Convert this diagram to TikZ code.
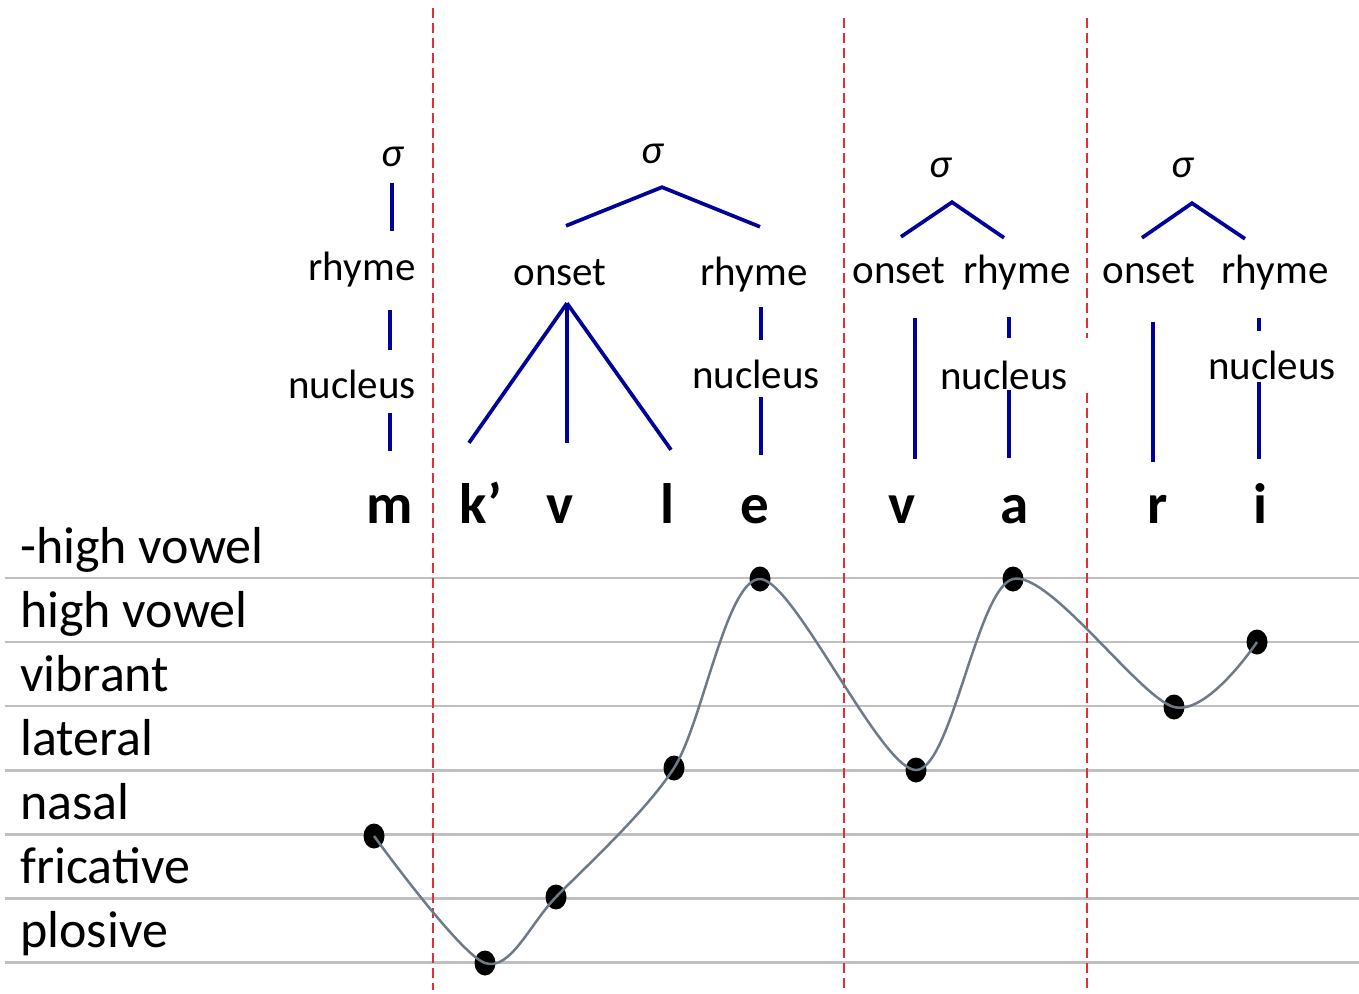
\documentclass[tikz,border=0pt]{standalone}
\usepackage{fontspec}
\setmainfont{Carlito}
\usetikzlibrary{shapes.geometric}
\newcommand\lblfont{\fontsize{41}{41}\selectfont}
\newcommand\segfont{\fontsize{57}{57}\selectfont\bfseries}
\newcommand\rowfont{\fontsize{52}{52}\selectfont}
\definecolor{branchblue}{RGB}{0,0,155}
\definecolor{divred}{RGB}{224,48,48}
\definecolor{rowgray}{RGB}{192,192,192}
\definecolor{curvegray}{RGB}{110,122,135}
\tikzset{
  lbl/.style 2 args={font=\lblfont, inner sep=0pt, anchor=base, text height=#1pt, text depth=#2pt},
  sig/.style={lbl={20}{#1}, font=\lblfont\itshape},
  seg/.style={font=\segfont, inner sep=0pt, anchor=base, text height=#1pt},
  branch/.style={draw=branchblue, line width=3.7pt},
  divider/.style={draw=divred, line width=1.5pt, dash pattern=on 10pt off 5pt},
  rowline/.style={draw=rowgray, line width=2.5pt},
  rowlab/.style={font=\rowfont, inner sep=0pt, anchor=base west},
  dot/.style={ellipse, fill=black, inner sep=0pt, minimum width=21pt, minimum height=25pt},
  curve/.style={draw=curvegray, line width=2.5pt}
}
\begin{document}
\begin{tikzpicture}[x=1pt,y=-1pt]
  \useasboundingbox (0,0) rectangle (1359,993);
  \foreach \lab [count=\k from 0] in {-high vowel, high vowel, vibrant, lateral, nasal, fricative, plosive} {
    \draw[rowline] (5,578+64.1*\k) -- (1359,578+64.1*\k);
    \node[rowlab] (row\k) at (20,563+64.1*\k) {\lab};
  }
  \draw[divider] (433,8) -- (433,990);
  \draw[divider] (844,18) -- (844,990);
  \draw[divider] (1087,18) -- (1087,990);

  \node[sig=17] (s1) at (392,166) {σ};
  \node[lbl={49}{30}] (r1) at (362,280) {rhyme};
  \node[lbl={48}{15}] (n1) at (352,398) {nucleus};
  \node[seg=72] (m) at (390,523) {m};

  \node[sig=24] (s2) at (652,163) {σ};
  \node[lbl={59}{18}] (o2) at (560,285) {onset};
  \node[lbl={58}{22}] (r2) at (754,285) {rhyme};
  \node[lbl={48}{9}] (n2) at (756,388) {nucleus};
  \node[seg=80] (k) at (481,523) {k’};
  \node[seg=80] (v2) at (560,523) {v};
  \node[seg=73] (l) at (667,523) {l};
  \node[seg=68] (e) at (755,523) {e};

  \node[sig=25] (s3) at (940,177) {σ};
  \node[lbl={46}{35}] (o3) at (899,283) {onset};
  \node[lbl={45}{34}] (r3) at (1017,283) {rhyme};
  \node[lbl={51}{1}, fill=white, inner xsep=22pt] (n3) at (1004,389) {nucleus};
  \node[seg=64] (v3) at (902,523) {v};
  \node[seg=65] (a) at (1015,523) {a};

  \node[sig=26] (s4) at (1182,177) {σ};
  \node[lbl={45}{39}] (o4) at (1149,283) {onset};
  \node[lbl={44}{35}] (r4) at (1275,283) {rhyme};
  \node[lbl={48}{3}] (n4) at (1272,379) {nucleus};
  \node[seg=61] (r) at (1158,523) {r};
  \node[seg=64] (i) at (1260,523) {i};

  \draw[branch] (s1.south) -- (s1.south |- r1.north);
  \draw[branch] (r1.south -| m) -- (n1.north -| m);
  \draw[branch] (n1.south -| m) -- (m.north);

  \draw[branch] ([xshift=6pt]o2.north) -- ([xshift=10pt]s2.south) -- ([xshift=6pt]r2.north);
  \draw[branch] ([xshift=7pt]o2.south) -- ([xshift=-12pt]k.north);
  \draw[branch] ([xshift=7pt]o2.south) -- ([xshift=7pt]v2.north);
  \draw[branch] ([xshift=7pt]o2.south) -- ([xshift=4pt]l.north);
  \draw[branch] ([xshift=7pt]r2.south) -- ([xshift=5pt]n2.north);
  \draw[branch] ([xshift=5pt]n2.south) -- ([xshift=6pt]e.north);

  \draw[branch] ([xshift=2pt]o3.north) -- ([xshift=12pt]s3.south) -- ([xshift=-13pt]r3.north);
  \draw[branch] ([xshift=16pt]o3.south) -- ([xshift=13pt]v3.north);
  \draw[branch] ([xshift=-8pt]r3.south) -- ([xshift=5pt]n3.north);
  \draw[branch] ([xshift=5pt]n3.south) -- ([xshift=-6pt]a.north);

  \draw[branch] ([xshift=-7pt]o4.north) -- ([xshift=10pt]s4.south) -- ([xshift=-30pt]r4.north);
  \draw[branch] ([xshift=4pt]o4.south) -- ([xshift=-5pt]r.north);
  \draw[branch] ([xshift=-16pt]r4.south) -- ([xshift=-13pt]n4.north);
  \draw[branch] ([xshift=-13pt]n4.south) -- ([xshift=-1pt]i.north);

  \foreach \px/\py [count=\j] in {374/836, 485/963, 556/897, 674/768, 760/579, 916/770, 1013/579, 1174/707, 1257/642}
    \node[dot] (d\j) at (\px,\py) {};
  \draw[curve] plot[smooth] coordinates {(d1) (d2) (d3) (d4) (d5) (d6) (d7) (d8) (d9)};
\end{tikzpicture}
\end{document}
